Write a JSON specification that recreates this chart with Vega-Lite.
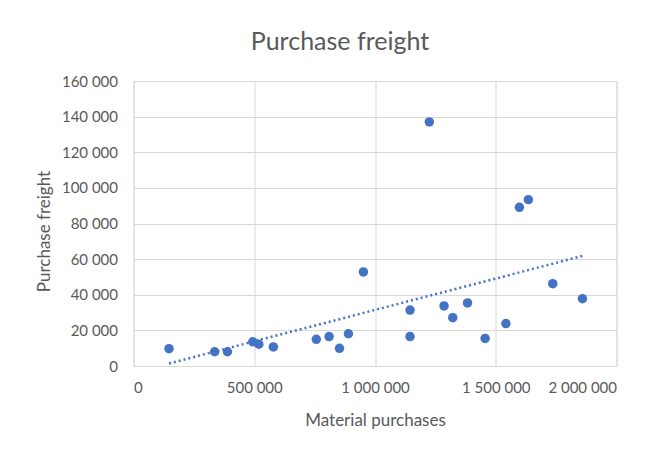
{
  "$schema": "https://vega.github.io/schema/vega-lite/v6.json",
  "width": 483,
  "height": 285,
  "autosize": "none",
  "padding": {"left": 133.5, "top": 81, "right": 50, "bottom": 89},
  "background": "white",
  "title": {
    "text": "Purchase freight",
    "font": "Lato",
    "fontSize": 25,
    "fontWeight": "normal",
    "color": "#595959",
    "anchor": "middle",
    "dx": -35,
    "offset": 19
  },
  "data": {
    "values": [
      {"material": 147000, "freight": 9700},
      {"material": 336000, "freight": 8000},
      {"material": 389000, "freight": 8000},
      {"material": 494000, "freight": 13600},
      {"material": 519000, "freight": 12200},
      {"material": 579000, "freight": 10700},
      {"material": 757000, "freight": 15000},
      {"material": 810000, "freight": 16500},
      {"material": 853000, "freight": 9900},
      {"material": 890000, "freight": 18100},
      {"material": 952000, "freight": 52800},
      {"material": 1225000, "freight": 137000},
      {"material": 1145000, "freight": 31400},
      {"material": 1145000, "freight": 16500},
      {"material": 1286000, "freight": 33700},
      {"material": 1322000, "freight": 27100},
      {"material": 1383000, "freight": 35400},
      {"material": 1456000, "freight": 15500},
      {"material": 1542000, "freight": 23800},
      {"material": 1598000, "freight": 89100},
      {"material": 1635000, "freight": 93400},
      {"material": 1736000, "freight": 46200},
      {"material": 1859000, "freight": 37800}
    ]
  },
  "encoding": {
    "x": {
      "field": "material",
      "type": "quantitative",
      "title": "Material purchases",
      "scale": {"domain": [0, 2000000], "nice": false},
      "axis": {"values": [0, 500000, 1000000, 1500000, 2000000], "labelPadding": 14, "titlePadding": 17}
    },
    "y": {
      "field": "freight",
      "type": "quantitative",
      "title": "Purchase freight",
      "scale": {"domain": [0, 160000], "nice": false},
      "axis": {"values": [0, 20000, 40000, 60000, 80000, 100000, 120000, 140000, 160000], "labelPadding": 16, "titlePadding": 8, "titleY": 150}
    }
  },
  "layer": [
    {
      "mark": {"type": "point", "filled": true, "size": 90, "opacity": 1, "color": "#4472C4"}
    },
    {
      "transform": [{"regression": "freight", "on": "material"}],
      "mark": {"type": "line", "color": "#4472C4", "strokeWidth": 2.5, "strokeDash": [2, 3]}
    }
  ],
  "config": {
    "locale": {"number": {"decimal": ",", "thousands": " ", "grouping": [3], "currency": ["", ""]}},
    "view": {"stroke": "#d9d9d9", "strokeWidth": 1},
    "axis": {
      "grid": true,
      "gridColor": "#d9d9d9",
      "domain": false,
      "ticks": false,
      "labelFont": "Lato",
      "labelFontSize": 15,
      "labelColor": "#595959",
      "titleFont": "Lato",
      "titleFontSize": 17,
      "titleFontWeight": "normal",
      "titleColor": "#595959"
    }
  }
}
